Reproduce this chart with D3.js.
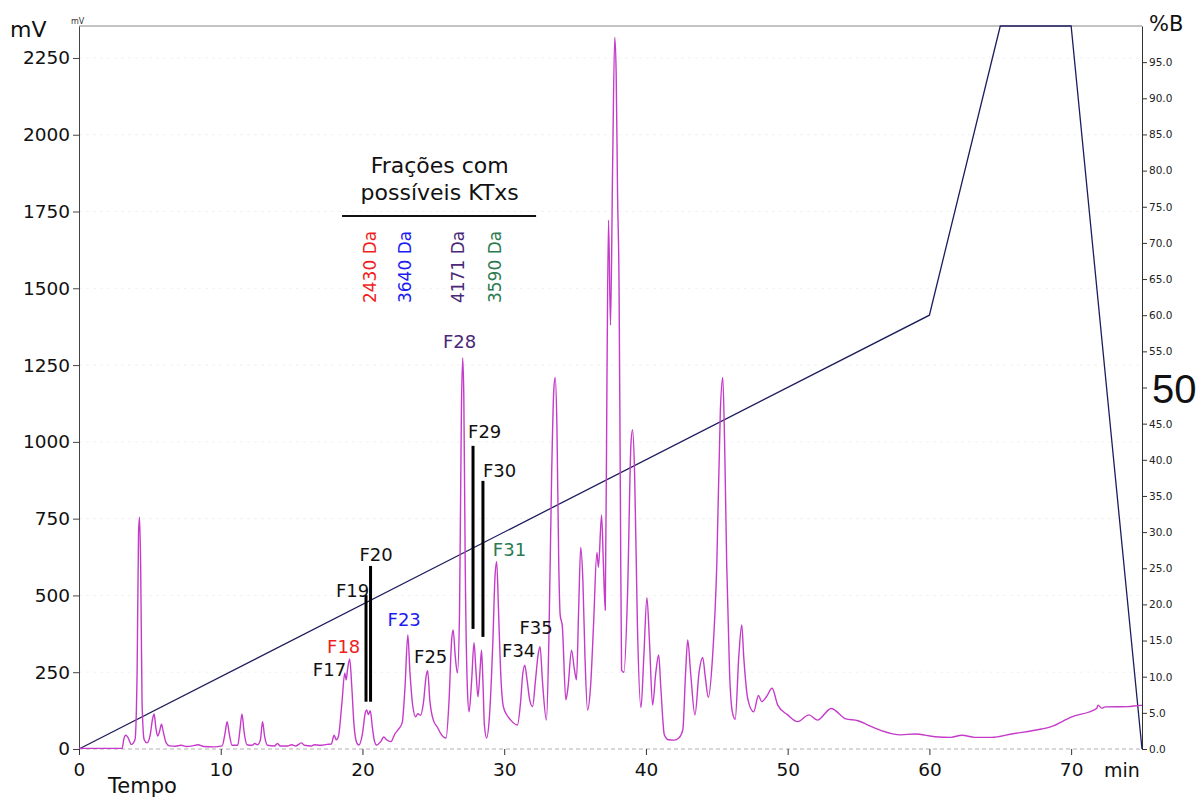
<!DOCTYPE html>
<html>
<head>
<meta charset="utf-8">
<script src="https://cdn.jsdelivr.net/npm/d3@7"></script>
<style>
  body { margin: 0; background: #fff; }
  text { font-family: "DejaVu Sans", sans-serif; }
</style>
</head>
<body>
<svg id="chart" width="1197" height="800"></svg>
<script>
// Chromatogram trace: retention time (min) and detector signal (mV)
const timeMin = [
  0, 3.05, 3.15, 3.3, 3.45, 3.7, 3.95, 4.1, 4.2, 4.27, 4.35, 4.45, 4.6, 4.8, 5.0, 5.2, 5.3, 5.42, 5.55, 5.7,
  5.82, 5.95, 6.15, 6.4, 6.8, 7.2, 7.6, 8.0, 8.4, 8.8, 9.5, 10.1, 10.3, 10.45, 10.6, 10.8, 11.2, 11.35, 11.5, 11.65,
  11.85, 12.2, 12.4, 12.6, 12.8, 12.95, 13.1, 13.3, 13.8, 14.0, 14.2, 14.7, 15.0, 15.3, 15.7, 15.9, 16.4, 16.6, 17.0, 17.5,
  17.8, 18.0, 18.15, 18.3, 18.55, 18.75, 18.85, 18.95, 19.1, 19.25, 19.4, 19.6, 19.75, 20.0, 20.2, 20.3, 20.42, 20.55, 20.7, 20.85,
  21.0, 21.3, 21.5, 21.7, 22.0, 22.3, 22.5, 22.8, 23.0, 23.2, 23.35, 23.55, 23.75, 23.9, 24.1, 24.3, 24.5, 24.6, 24.75, 25.0,
  25.3, 25.5, 25.9, 26.1, 26.3, 26.4, 26.55, 26.7, 26.85, 26.98, 27.07, 27.15, 27.25, 27.4, 27.52, 27.7, 27.87, 28.0, 28.15, 28.3,
  28.4, 28.5, 28.6, 28.76, 28.95, 29.2, 29.35, 29.47, 29.6, 29.75, 29.94, 30.2, 30.46, 30.93, 31.15, 31.3, 31.45, 31.6, 31.8, 32.0,
  32.2, 32.4, 32.53, 32.7, 32.98, 33.15, 33.35, 33.5, 33.6, 33.72, 33.85, 33.95, 34.1, 34.35, 34.5, 34.75, 34.95, 35.1, 35.25, 35.4,
  35.55, 35.7, 35.88, 36.1, 36.3, 36.54, 36.65, 36.87, 37.0, 37.13, 37.25, 37.36, 37.5, 37.65, 37.8, 37.9, 38.0, 38.1, 38.2, 38.28,
  38.45, 38.7, 38.95, 39.06, 39.2, 39.4, 39.65, 39.85, 40.07, 40.25, 40.47, 40.7, 40.9, 41.05, 41.3, 41.6, 42.0, 42.3, 42.6, 42.8,
  42.95, 43.15, 43.46, 43.75, 44.0, 44.2, 44.4, 44.7, 45.0, 45.25, 45.42, 45.55, 45.7, 45.9, 46.1, 46.3, 46.55, 46.76, 46.9, 47.2,
  47.6, 47.94, 48.17, 48.5, 48.9, 49.3, 50.0, 50.7, 51.5, 52.1, 53.07, 54.1, 54.96, 55.67, 56.6, 58.0, 58.96, 60.4, 61.5, 62.3,
  63.2, 64.4, 65.8, 67.9, 68.6, 70.0, 71.8, 71.9, 72.15, 72.4, 74.0, 74.9, 75
];
const signalMV = [
  2, 2, 30, 45, 38, 15, 30, 250, 700, 755, 600, 150, 30, 20, 40, 100, 114, 70, 42, 60,
  81, 55, 20, 10, 9, 12, 8, 10, 14, 8, 7, 10, 50, 89, 50, 12, 12, 60, 114, 55,
  14, 12, 18, 14, 30, 89, 40, 12, 10, 18, 10, 10, 14, 10, 20, 12, 10, 14, 12, 15,
  16, 45, 30, 40, 150, 247, 225, 260, 293, 200, 80, 20, 13, 50, 118, 127, 112, 125, 70, 25,
  13, 25, 39, 30, 24, 50, 62, 85, 200, 371, 250, 140, 105, 115, 110, 150, 240, 255, 160, 94,
  70, 52, 36, 150, 360, 388, 300, 247, 450, 1100, 1273, 1150, 600, 200, 121, 220, 346, 260, 170, 260,
  322, 220, 80, 36, 100, 350, 560, 610, 450, 250, 138, 110, 94, 78, 150, 240, 273, 230, 160, 138,
  220, 310, 333, 220, 94, 350, 900, 1170, 1210, 1050, 600, 436, 400, 160, 200, 322, 260, 225, 450, 656,
  550, 300, 127, 208, 400, 640, 592, 762, 600, 452, 1200, 1722, 1380, 1900, 2317, 2200, 1800, 1527, 800, 257,
  250, 500, 1000, 1040, 900, 400, 135, 300, 493, 350, 143, 250, 306, 200, 46, 30, 29, 35, 62, 250,
  355, 250, 111, 250, 298, 230, 168, 300, 600, 1100, 1210, 1000, 600, 250, 120, 97, 300, 404, 300, 160,
  121, 174, 154, 170, 198, 143, 111, 89, 111, 94, 132, 98, 92, 78, 60, 46, 49, 40, 38, 45,
  38, 38, 49, 65, 73, 104, 132, 143, 133, 137, 138, 142, 142
];

// Solvent gradient program (%B)
const gradientTime = [0, 60, 65, 70, 75];
const gradientB = [0, 60, 100, 100, 0];

// Axis ticks
const mvTicks = [0, 250, 500, 750, 1000, 1250, 1500, 1750, 2000, 2250];
const timeTicks = [0, 10, 20, 30, 40, 50, 60, 70];
const bTicks = [0, 5, 10, 15, 20, 25, 30, 35, 40, 45, 50, 55, 60, 65, 70, 75, 80, 85, 90, 95];
// %B level called out in large type beside the right axis
const bHighlight = 50;

// Collected fractions: label and anchor (time, mV)
const fractionNames = ["F17", "F18", "F19", "F20", "F23", "F25", "F28", "F29", "F30", "F31", "F34", "F35"];
const fractionTime  = [16.5, 17.5, 18.13, 19.79, 21.77, 23.64, 25.68, 27.45, 28.5, 29.2, 29.85, 31.08];
const fractionMV    = [238, 313, 495, 612, 401, 280, 1306, 1013, 886, 628, 300, 374];

// Vertical fraction markers (time, from mV, to mV)
const markerTime = [20.25, 20.57, 27.8, 28.5];
const markerFrom = [154, 154, 391, 365];
const markerTo   = [501, 596, 987, 873];

// Fractions with possible KTxs and their measured masses
const ktxFractions = ["F18", "F23", "F28", "F31"];
const ktxMasses = ["2430 Da", "3640 Da", "4171 Da", "3590 Da"];
const ktxLabelTime = [20.53, 23.0, 26.74, 29.35];

const fractionColor = { F18: "#f01e1e", F23: "#1c1cf0", F28: "#4a2878", F31: "#2b7a50" };

const svg = d3.select("#chart");
const plotLeft = 79, plotRight = 1142, plotTop = 26, plotBottom = 749;

const x = d3.scaleLinear().domain([0, 75]).range([plotLeft, plotRight]);
const y = d3.scaleLinear().domain([0, 2354]).range([plotBottom, plotTop]);
const yB = d3.scaleLinear().domain([0, 100]).range([plotBottom, plotTop]);

// faint horizontal guides
svg.append("g").selectAll("line").data(mvTicks.slice(1)).join("line")
  .attr("x1", plotLeft).attr("x2", plotRight)
  .attr("y1", d => y(d)).attr("y2", d => y(d))
  .attr("stroke", "#f1f1f1").attr("stroke-dasharray", "3,4");

// top frame
svg.append("line").attr("x1", plotLeft).attr("x2", plotRight).attr("y1", plotTop).attr("y2", plotTop)
  .attr("stroke", "#8a8a8a").attr("stroke-width", 1.2);

// zero baseline (dashed)
svg.append("line").attr("x1", plotLeft).attr("x2", plotRight).attr("y1", y(0)).attr("y2", y(0))
  .attr("stroke", "#b0b0b0").attr("stroke-dasharray", "4,3");

// Left axis (mV)
const gL = svg.append("g").attr("transform", `translate(${plotLeft},0)`);
gL.call(d3.axisLeft(y).tickValues(d3.range(0, 2351, 50)).tickSize(3).tickFormat(""));
gL.call(d3.axisLeft(y).tickValues(mvTicks).tickSize(6).tickPadding(3).tickSizeOuter(0).tickFormat(d3.format("d")));
gL.selectAll("path.domain").attr("stroke", "#444");
gL.selectAll("line").attr("stroke", "#444");
gL.selectAll("text").attr("font-size", 18.5).attr("fill", "#111")
  .style("font-family", '"DejaVu Sans", sans-serif');

// Right axis (%B); the highlighted level carries its own large label
const gR = svg.append("g").attr("transform", `translate(${plotRight},0)`);
gR.call(d3.axisRight(yB).tickValues(d3.range(0, 101, 1)).tickSize(3).tickFormat(""));
gR.call(d3.axisRight(yB).tickValues(bTicks).tickSize(5).tickPadding(2).tickSizeOuter(0)
  .tickFormat(d => d === bHighlight ? "" : d3.format(".1f")(d)));
gR.selectAll("path.domain").attr("stroke", "#333");
gR.selectAll("line").attr("stroke", "#333");
gR.selectAll("text").attr("font-size", 10.5).attr("fill", "#222")
  .style("font-family", '"DejaVu Sans", sans-serif');

// Bottom axis (time)
const gB = svg.append("g").attr("transform", `translate(0,${plotBottom})`);
gB.call(d3.axisBottom(x).tickValues(d3.range(0, 75, 2)).tickSize(4).tickFormat(""));
gB.call(d3.axisBottom(x).tickValues(timeTicks).tickSize(6).tickPadding(8));
gB.selectAll("path.domain").remove();
gB.selectAll("line").attr("stroke", "#333");
gB.selectAll("text").attr("font-size", 18.5).attr("fill", "#111")
  .style("font-family", '"DejaVu Sans", sans-serif');

// Gradient line
svg.append("path")
  .datum(gradientTime.map((t, i) => [t, gradientB[i]]))
  .attr("fill", "none").attr("stroke", "#1d1d5e").attr("stroke-width", 1.3)
  .attr("d", d3.line().x(d => x(d[0])).y(d => yB(d[1])));

// Chromatogram trace
svg.append("path")
  .datum(timeMin.map((t, i) => [t, signalMV[i]]))
  .attr("fill", "none").attr("stroke", "#c53bc9").attr("stroke-width", 1.4)
  .attr("stroke-linejoin", "round")
  .attr("d", d3.line().curve(d3.curveMonotoneX).x(d => x(d[0])).y(d => y(d[1])));

// Fraction markers
svg.append("g").selectAll("line").data(markerTime).join("line")
  .attr("x1", d => x(d)).attr("x2", d => x(d))
  .attr("y1", (d, i) => y(markerFrom[i])).attr("y2", (d, i) => y(markerTo[i]))
  .attr("stroke", "#000").attr("stroke-width", 3);

// Fraction labels
svg.append("g").selectAll("text").data(fractionNames).join("text")
  .attr("x", (d, i) => x(fractionTime[i]))
  .attr("y", (d, i) => y(fractionMV[i]))
  .attr("font-size", 18)
  .attr("fill", d => fractionColor[d] || "#111")
  .text(d => d);

// Annotation header
const headerTime = 25.45;
svg.append("text").attr("x", x(headerTime)).attr("y", y(1875)).attr("text-anchor", "middle")
  .attr("font-size", 22).attr("fill", "#111").text("Frações com");
svg.append("text").attr("x", x(headerTime)).attr("y", y(1788)).attr("text-anchor", "middle")
  .attr("font-size", 22).attr("fill", "#111").text("possíveis KTxs");
svg.append("line").attr("x1", x(18.56)).attr("x2", x(32.25)).attr("y1", y(1735)).attr("y2", y(1735))
  .attr("stroke", "#111").attr("stroke-width", 2);

// Mass labels (rotated)
svg.append("g").selectAll("text").data(ktxMasses).join("text")
  .attr("transform", (d, i) => `translate(${x(ktxLabelTime[i])},${y(1452)}) rotate(-90)`)
  .attr("dominant-baseline", "central")
  .attr("font-size", 17)
  .attr("fill", (d, i) => fractionColor[ktxFractions[i]])
  .text(d => d);

// Axis titles
svg.append("text").attr("x", 10).attr("y", 37).attr("font-size", 22).attr("fill", "#111").text("mV");
svg.append("text").attr("x", 71).attr("y", 24).attr("font-size", 8).attr("fill", "#333").text("mV");
svg.append("text").attr("x", 1149).attr("y", 31).attr("font-size", 21).attr("fill", "#111").text("%B");
svg.append("text").attr("x", 1152).attr("y", yB(bHighlight) + 15).attr("font-size", 40)
  .style("font-family", '"Liberation Sans", Arial, sans-serif').attr("fill", "#111").text(String(bHighlight));
svg.append("text").attr("x", 1104).attr("y", 777).attr("font-size", 19).attr("fill", "#111").text("min");
svg.append("text").attr("x", 108).attr("y", 793).attr("font-size", 21).attr("fill", "#111").text("Tempo");
</script>
</body>
</html>
